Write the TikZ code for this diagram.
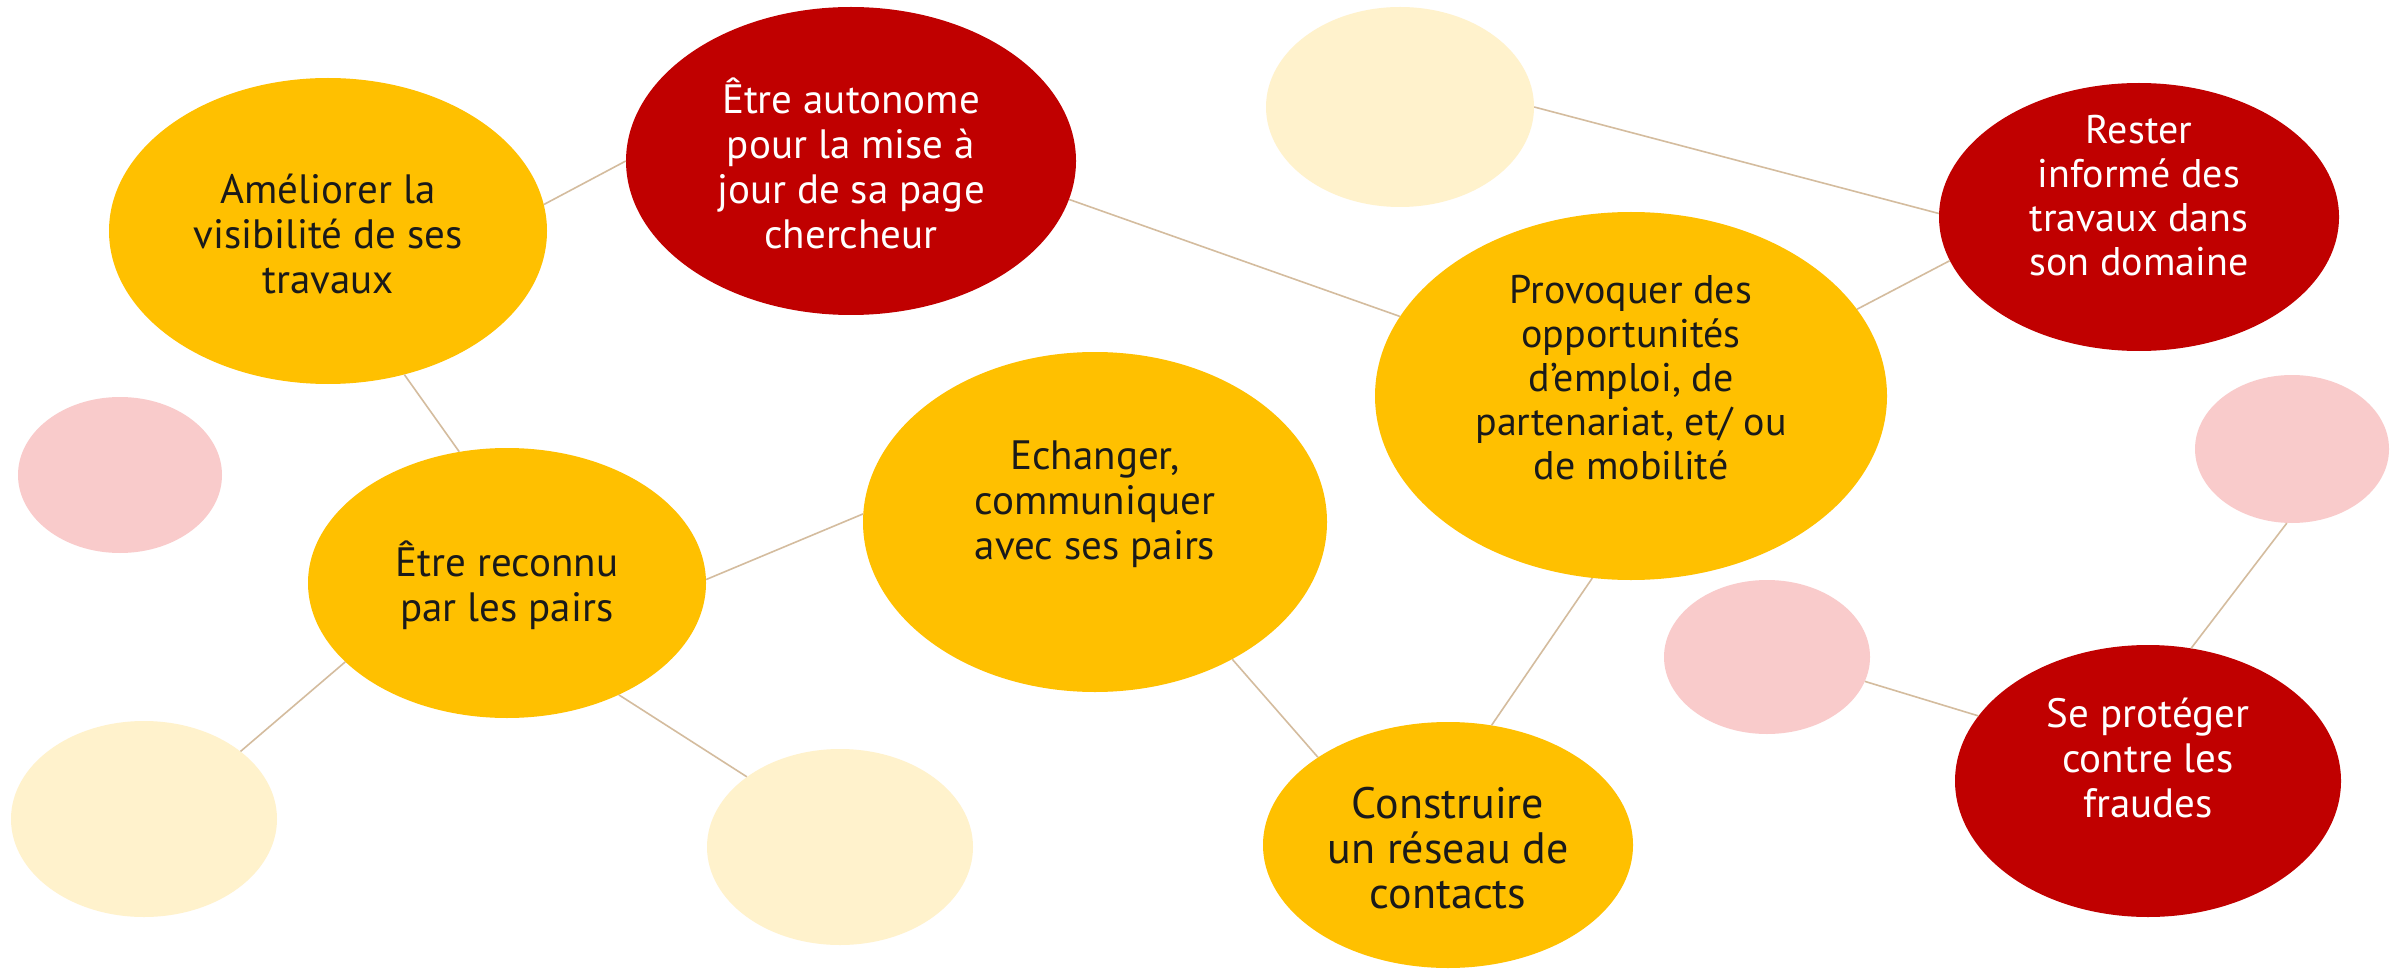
\documentclass[tikz,border=0pt]{standalone}
\usepackage{fontspec}
\setmainfont{PT Sans}
\usetikzlibrary{shapes.geometric}
\definecolor{gold}{HTML}{FFC000}
\definecolor{deepred}{HTML}{C00000}
\definecolor{softpink}{HTML}{F9CBCB}
\definecolor{cream}{HTML}{FFF2CC}
\definecolor{linktan}{HTML}{D4BC9E}
\definecolor{inkdark}{HTML}{1A1A1A}
\begin{document}
\begin{tikzpicture}[x=1pt,y=-1pt,
  blob/.style n args={3}{ellipse, fill=#1, draw=none, inner sep=0pt, minimum width=#2, minimum height=#3},
  lbl/.style={align=center, inner sep=0pt, font=\fontsize{41}{45}\selectfont},
  dlbl/.style={lbl, text=inkdark},
  wlbl/.style={lbl, text=white},
  link/.style={draw=linktan, line width=1.6pt}]
\useasboundingbox[fill=white] (0,0) rectangle (2405,973);

% ellipses
\node[blob={gold}{438pt}{306pt}]     (ame)     at (328,231)  {};
\node[blob={deepred}{450pt}{308pt}]  (auto)    at (851,161)  {};
\node[blob={cream}{268pt}{200pt}]    (creamT)  at (1400,107) {};
\node[blob={deepred}{400pt}{268pt}]  (reste)   at (2139,217) {};
\node[blob={gold}{512pt}{368pt}]     (prov)    at (1631,396) {};
\node[blob={softpink}{204pt}{156pt}] (pinkL)   at (120,475)  {};
\node[blob={gold}{398pt}{270pt}]     (reconnu) at (507,583)  {};
\node[blob={gold}{464pt}{340pt}]     (ech)     at (1095,522) {};
\node[blob={cream}{266pt}{196pt}]    (creamBL) at (144,819)  {};
\node[blob={cream}{266pt}{196pt}]    (creamBM) at (840,847)  {};
\node[blob={gold}{370pt}{246pt}]     (constr)  at (1448,845) {};
\node[blob={softpink}{206pt}{154pt}] (pinkM)   at (1767,657) {};
\node[blob={softpink}{194pt}{148pt}] (pinkR)   at (2292,449) {};
\node[blob={deepred}{386pt}{272pt}]  (prot)    at (2148,781) {};

% texts
\node[dlbl] (tame)     at (328,234)  {Améliorer la\\visibilité de ses\\travaux};
\node[wlbl] (tauto)    at (851,163)  {Être autonome\\pour la mise à\\jour de sa page\\chercheur};
\node[wlbl, font=\fontsize{40}{44}\selectfont] (treste) at (2139,196) {Rester\\informé des\\travaux dans\\son domaine};
\node[dlbl, font=\fontsize{40}{44}\selectfont] (tprov)  at (1631,378) {Provoquer des\\opportunités\\d’emploi, de\\partenariat, et/ ou\\de mobilité};
\node[dlbl] (treconnu) at (507,585)  {Être reconnu\\par les pairs};
\node[dlbl] (tech)     at (1095,504) {Echanger,\\communiquer\\avec ses pairs};
\node[dlbl, font=\fontsize{44}{45}\selectfont] (tconstr) at (1448,848) {Construire\\un réseau de\\contacts};
\node[wlbl] (tprot)    at (2148,758) {Se protéger\\contre les\\fraudes};

% connectors
\draw[link] (ame.7.5)      -- (auto.180);
\draw[link] (ame.-62)      -- (reconnu.110.3);
\draw[link] (auto.-10)     -- (prov.161.9);
\draw[link] (creamT.0)     -- (reste.179);
\draw[link] (prov.21.6)    -- (reste.193.4);
\draw[link] (reconnu.1.4)  -- (ech.178);
\draw[link] (reconnu.206)  -- (creamBL.35.4);
\draw[link] (reconnu.-45.3) -- (creamBM.143);
\draw[link] (ech.-45)      -- (constr.146.5);
\draw[link] (prov.-102.3)  -- (constr.70.5);
\draw[link] (pinkR.-94.6)  -- (prot.72.9);
\draw[link] (pinkM.-14.3)  -- (prot.159.8);
\end{tikzpicture}
\end{document}
